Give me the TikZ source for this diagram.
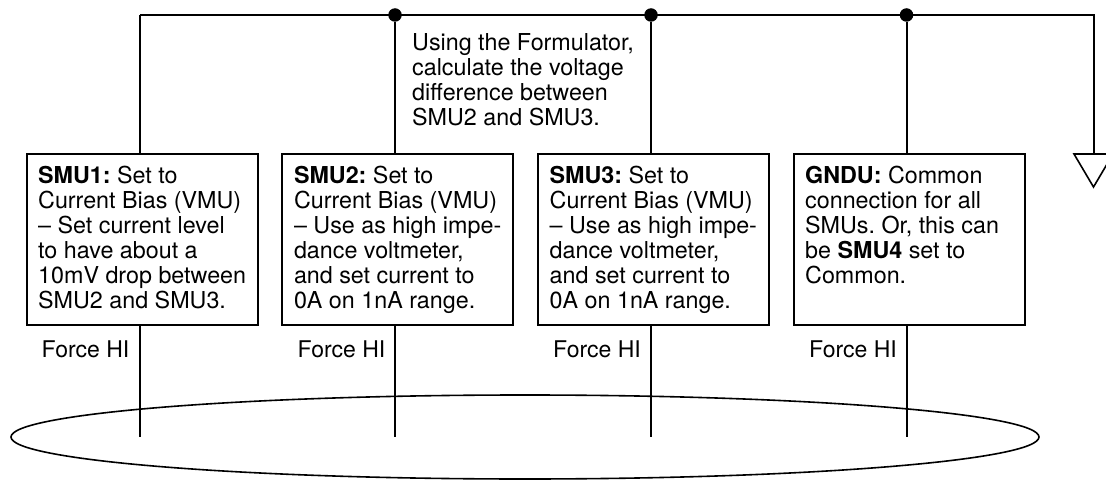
\documentclass[tikz,border=0pt]{standalone}
\usepackage{fontspec}
\setmainfont{TeX Gyre Heros}
\usetikzlibrary{shapes.geometric}
\tikzset{
  every picture/.style={x=1pt,y=-1pt},
  wire/.style={line width=2pt,black},
  smubox/.style={draw=black,line width=2pt,fill=white,minimum width=231pt,minimum height=171pt,inner sep=0pt},
  boxtext/.style={anchor=north west,align=left,inner sep=0pt,font=\fontsize{23.3}{25}\selectfont\frenchspacing},
  forcetext/.style={anchor=base east,inner sep=0pt,font=\fontsize{23}{25}\selectfont},
  junction/.style={circle,fill=black,inner sep=0pt,minimum size=13.5pt},
}
\begin{document}
\begin{tikzpicture}
\useasboundingbox (0,0) rectangle (1106,481);
\clip (0,0) rectangle (1106,481);
% ellipse
\node[draw=black,line width=1.6pt,ellipse,minimum width=1028pt,minimum height=84pt,inner sep=0pt] (dut) at (525,437) {};
% rail
\coordinate (c1) at (139.5,15);
\coordinate (c2) at (1093.5,15);
\node[junction] (j2) at (395,15) {};
\node[junction] (j3) at (651,15) {};
\node[junction] (j4) at (906.5,15) {};
\coordinate (g) at (1093.5,154);
\draw[wire,line join=miter] (g) -- (c2) -- (c1);
% boxes
\node[smubox] (b1) at (142,239.5) {};
\node[smubox] (b2) at (397.5,239.5) {};
\node[smubox] (b3) at (653.5,239.5) {};
\node[smubox] (b4) at (909,239.5) {};
% top wires
\draw[wire] (c1) -- (c1 |- b1.north);
\draw[wire] (j2) -- (j2 |- b2.north);
\draw[wire] (j3) -- (j3 |- b3.north);
\draw[wire] (j4) -- (j4 |- b4.north);
% lower wires
\coordinate (e1) at (139.5,437);
\coordinate (e2) at (395,437);
\coordinate (e3) at (651,437);
\coordinate (e4) at (906.5,437);
\draw[wire] (e1 |- b1.south) -- (e1);
\draw[wire] (e2 |- b2.south) -- (e2);
\draw[wire] (e3 |- b3.south) -- (e3);
\draw[wire] (e4 |- b4.south) -- (e4);
% ground
\draw[line width=1.6pt,line join=miter] (1074,154) -- (1113,154) -- (1093.5,187) -- cycle;
% text
\node[boxtext] (t1) at (38,165.7) {\textbf{SMU1:} Set to\\Current Bias (VMU)\\– Set current level\\to have about a\\10mV drop between\\SMU2 and SMU3.};
\node[boxtext] (t2) at (293.8,165.7) {\textbf{SMU2:} Set to\\Current Bias (VMU)\\– Use as high impe-\\dance voltmeter,\\and set current to\\0A on 1nA range.};
\node[boxtext] (t3) at (549.5,165.7) {\textbf{SMU3:} Set to\\Current Bias (VMU)\\– Use as high impe-\\dance voltmeter,\\and set current to\\0A on 1nA range.};
\node[boxtext] (t4) at (805,165.7) {\textbf{GNDU:} Common\\connection for all\\SMUs. Or, this can\\be \textbf{SMU4} set to\\Common.};
\node[boxtext] (note) at (412,32.9) {Using the Formulator,\\calculate the voltage\\difference between\\SMU2 and SMU3.};
\node[forcetext] (f1) at (129.5,357.7) {Force HI};
\node[forcetext] (f2) at (385.5,357.7) {Force HI};
\node[forcetext] (f3) at (641,357.7) {Force HI};
\node[forcetext] (f4) at (897,357.7) {Force HI};
\end{tikzpicture}
\end{document}
